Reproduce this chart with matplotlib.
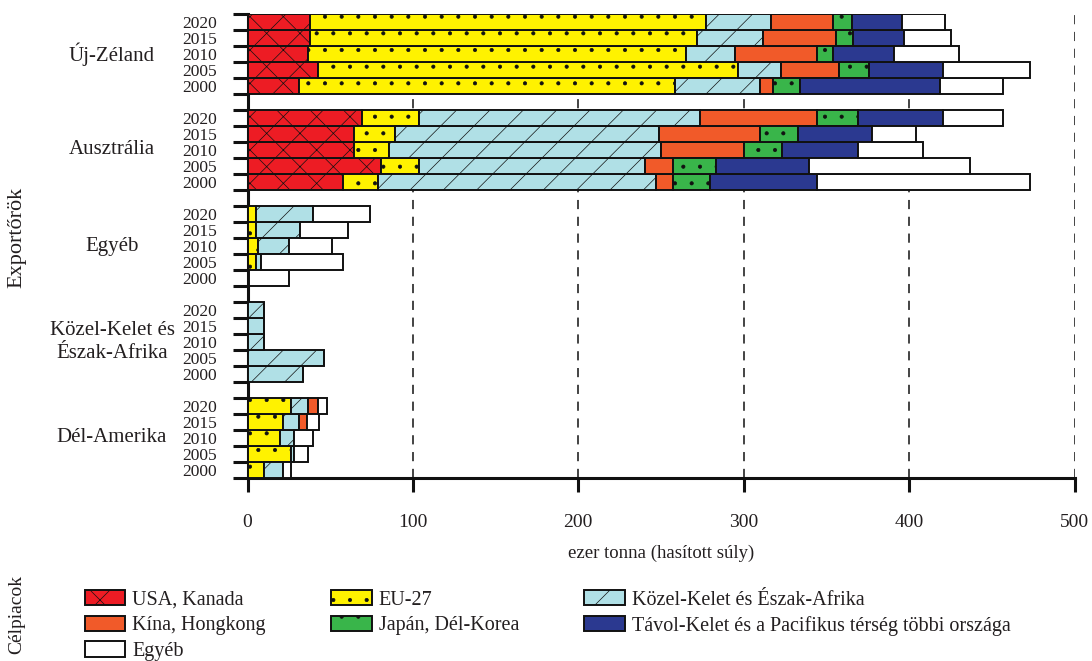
import numpy as np
import matplotlib.pyplot as plt
from matplotlib.patches import Patch
from matplotlib.transforms import blended_transform_factory

plt.rcParams['font.family'] = ['Liberation Serif', 'DejaVu Serif']
plt.rcParams['hatch.linewidth'] = 0.5

TEXT = '#231f20'

# exportőrök alulról felfelé, évek alulról felfelé
exporters = ['Dél-Amerika', 'Közel-Kelet és\nÉszak-Afrika', 'Egyéb', 'Ausztrália', 'Új-Zéland']
years = ['2000', '2005', '2010', '2015', '2020']

# célpiacok (ezer tonna), sorok = exportőr, oszlopok = év
usa_kanada = [
    [0, 0, 0, 0, 0],
    [0, 0, 0, 0, 0],
    [0, 0, 0, 0, 0],
    [57.6, 80.8, 64.5, 64.5, 69.3],
    [31.2, 42.7, 36.3, 37.9, 37.9],
]
eu27 = [
    [9.7, 26.0, 19.8, 21.4, 26.0],
    [0, 0, 0, 0, 0],
    [1.0, 5.0, 6.5, 5.0, 5.0],
    [21.4, 22.8, 20.9, 24.4, 34.3],
    [227.4, 253.8, 228.9, 234.0, 239.1],
]
kozel_kelet = [
    [11.9, 2.0, 8.2, 9.9, 10.5],
    [33.3, 46.4, 9.7, 9.7, 9.7],
    [0, 3.3, 18.3, 26.7, 34.7],
    [167.7, 136.6, 164.9, 159.8, 170.1],
    [51.1, 26.2, 29.6, 39.7, 39.6],
]
kina = [
    [0, 0, 0, 4.8, 6.3],
    [0, 0, 0, 0, 0],
    [0, 0, 0, 0, 0],
    [10.3, 16.8, 49.6, 61.1, 70.7],
    [8.1, 34.8, 49.6, 44.3, 37.4],
]
japan = [
    [0, 0, 0, 0, 0],
    [0, 0, 0, 0, 0],
    [0, 0, 0, 0, 0],
    [22.9, 26.4, 23.0, 23.1, 24.6],
    [16.5, 18.0, 9.7, 10.1, 11.4],
]
tavol_kelet = [
    [0, 0, 0, 0, 0],
    [0, 0, 0, 0, 0],
    [0, 0, 0, 0, 0],
    [64.7, 56.1, 46.3, 44.8, 51.4],
    [84.3, 44.9, 36.5, 31.0, 30.2],
]
egyeb = [
    [4.8, 8.5, 11.7, 7.0, 5.4],
    [0, 0, 0, 0, 0],
    [24.0, 49.4, 26.4, 29.3, 34.5],
    [128.4, 97.2, 39.5, 26.2, 36.5],
    [38.1, 52.6, 39.7, 28.2, 26.4],
]

series = [
    ('USA, Kanada', usa_kanada, '#ed1c24', 'x'),
    ('EU-27', eu27, '#fff200', '.'),
    ('Közel-Kelet és Észak-Afrika', kozel_kelet, '#b0e0e6', '/'),
    ('Kína, Hongkong', kina, '#f15a29', None),
    ('Japán, Dél-Korea', japan, '#39b54a', '.'),
    ('Távol-Kelet és a Pacifikus térség többi országa', tavol_kelet, '#2b3990', None),
    ('Egyéb', egyeb, 'white', None),
]

fig = plt.figure(figsize=(10.92, 6.61), dpi=100)
ax = fig.add_axes([247.5 / 1092, 1 - 478 / 661, (1074.5 - 247.5) / 1092, 464 / 661])

ypos = np.array([g * 6 + k for g in range(len(exporters)) for k in range(len(years))])
left = np.zeros(len(ypos))
handles = {}
for name, vals, color, hatch in series:
    w = np.array(vals, dtype=float).ravel()
    ax.barh(ypos, w, left=left, height=1.0, color=color, edgecolor='#111111',
            linewidth=1.4, hatch=hatch, zorder=3)
    handles[name] = Patch(facecolor=color, edgecolor='#111111', linewidth=1.4, hatch=hatch)
    left += w

ax.set_xlim(0, 500)
ax.set_ylim(-0.5, 28.5)

# rácsvonalak
for xv in [100, 200, 300, 400, 500]:
    ax.axvline(xv, color='#111111', linestyle=(0, (6, 5)), linewidth=1.1, zorder=1)

ax.spines['top'].set_visible(False)
ax.spines['right'].set_visible(False)
for s in ['left', 'bottom']:
    ax.spines[s].set_linewidth(2.2)
    ax.spines[s].set_color('#111111')

ax.set_xticks([0, 100, 200, 300, 400, 500])
ax.tick_params(axis='x', length=10, width=2.2, pad=16, labelsize=14, labelcolor=TEXT, color='#111111')
ax.set_yticks(ypos)
ax.set_yticklabels(years * len(exporters))
ax.tick_params(axis='y', which='major', length=0, pad=22, labelsize=12.5, labelcolor=TEXT)
bounds = [g * 6 + k - 0.5 for g in range(len(exporters)) for k in range(6)]
ax.set_yticks(bounds, minor=True)
ax.tick_params(axis='y', which='minor', length=11, width=2.2, color='#111111')

ax.set_xlabel('ezer tonna (hasított súly)', fontsize=13.5, color=TEXT, labelpad=10)

trans = blended_transform_factory(fig.transFigure, ax.transData)
for g, name in enumerate(exporters):
    ax.text(112 / 1092, g * 6 + 2, name, transform=trans, ha='center', va='center',
            fontsize=15, color=TEXT, linespacing=1.25)

fig.text(17 / 1092, 1 - 237 / 661, 'Exportőrök', rotation=90, ha='center', va='center',
         fontsize=16, color=TEXT)
fig.text(17 / 1092, 1 - 614 / 661, 'Célpiacok', rotation=90, ha='center', va='center',
         fontsize=14, color=TEXT)

order = ['USA, Kanada', 'Kína, Hongkong', 'Egyéb', 'EU-27', 'Japán, Dél-Korea',
         'Közel-Kelet és Észak-Afrika', 'Távol-Kelet és a Pacifikus térség többi országa']
leg = fig.legend([handles[n] for n in order], order, loc='upper left',
                 bbox_to_anchor=(85 / 1092, 1 - 590 / 661), ncol=3, frameon=False,
                 fontsize=14.5, handlelength=2.0, handleheight=0.8, handletextpad=0.35,
                 columnspacing=3.25, labelspacing=0.3, borderpad=0, borderaxespad=0)
for t in leg.get_texts():
    t.set_color(TEXT)

fig.savefig('out.png', dpi=100)
